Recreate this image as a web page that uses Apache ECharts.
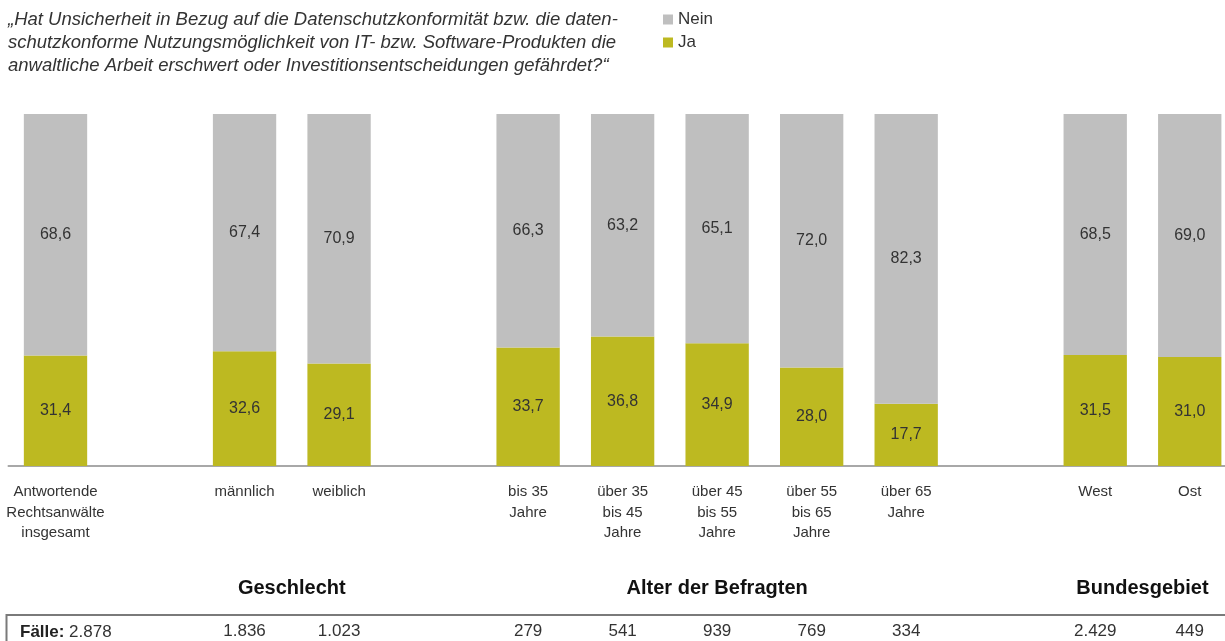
<!DOCTYPE html>
<html>
<head>
<meta charset="utf-8">
<script src="https://cdn.jsdelivr.net/npm/echarts@6/dist/echarts.min.js"></script>
<style>
  html, body { margin: 0; padding: 0; background: #fff; overflow: hidden; }
  /* plot area runs past the right edge, as in the cropped original */
  #chart { width: 1237px; height: 641px; }
</style>
</head>
<body>
<div id="chart"></div>
<script>
// categories ('' = empty gap slot between groups)
const categories = [
  'Antwortende\nRechtsanwälte\ninsgesamt', '', 'männlich', 'weiblich', '',
  'bis 35\nJahre', 'über 35\nbis 45\nJahre', 'über 45\nbis 55\nJahre',
  'über 55\nbis 65\nJahre', 'über 65\nJahre', '', 'West', 'Ost'
];
const ja   = [31.4, null, 32.6, 29.1, null, 33.7, 36.8, 34.9, 28.0, 17.7, null, 31.5, 31.0];
const nein = [68.6, null, 67.4, 70.9, null, 66.3, 63.2, 65.1, 72.0, 82.3, null, 68.5, 69.0];
const faelle = ['2.878', '', '1.836', '1.023', '', '279', '541', '939', '769', '334', '', '2.429', '449'];
// group headings and the category slots they sit under
const groups = [
  { name: 'Geschlecht', from: 2, to: 3 },
  { name: 'Alter der Befragten', from: 5, to: 9 },
  { name: 'Bundesgebiet', from: 11, to: 12 }
];
const titleText = '„Hat Unsicherheit in Bezug auf die Datenschutzkonformität bzw. die daten-\n' +
  'schutzkonforme Nutzungsmöglichkeit von IT- bzw. Software-Produkten die\n' +
  'anwaltliche Arbeit erschwert oder Investitionsentscheidungen gefährdet?“';

const FONT = '"Liberation Sans", Arial, sans-serif';
const fmt = v => v.toFixed(1).replace('.', ',');

const chart = echarts.init(document.getElementById('chart'));
const option = {
  animation: false,
  textStyle: { fontFamily: FONT },
  title: {
    text: titleText,
    left: 3,
    top: 3,
    textStyle: { fontFamily: FONT, fontSize: 18.5, fontStyle: 'italic', fontWeight: 'normal', color: '#333', lineHeight: 23 }
  },
  legend: {
    data: ['Nein', 'Ja'],
    orient: 'vertical',
    left: 658,
    top: 6,
    icon: 'rect',
    itemWidth: 10,
    itemHeight: 10,
    itemGap: 6,
    textStyle: { fontFamily: FONT, fontSize: 17, lineHeight: 17, color: '#333' }
  },
  grid: { left: 8.25, right: 0, top: 114, bottom: 175 },
  xAxis: [{
    type: 'category',
    data: categories,
    axisLine: { lineStyle: { color: '#8c8c8c', width: 1.5 } },
    axisTick: { show: false },
    axisLabel: { interval: 0, margin: 16, fontSize: 15, lineHeight: 20.5, color: '#333', fontFamily: FONT }
  }, {
    type: 'category',
    // first count is drawn with its "Fälle:" caption as a graphic below
    data: faelle.map((f, i) => i === 0 ? '' : f),
    position: 'bottom',
    offset: 157,
    axisLine: { show: false },
    axisTick: { show: false },
    axisLabel: { interval: 0, margin: 0, fontSize: 17, color: '#333', fontFamily: FONT }
  }],
  yAxis: { type: 'value', min: 0, max: 100, show: false },
  series: [{
    name: 'Ja',
    type: 'bar',
    stack: 'total',
    data: ja,
    barWidth: '67%',
    itemStyle: { color: '#bdb921' },
    label: { show: true, position: 'inside', formatter: p => fmt(p.value), fontSize: 16, color: '#333', fontFamily: FONT }
  }, {
    name: 'Nein',
    type: 'bar',
    stack: 'total',
    data: nein,
    barWidth: '67%',
    itemStyle: { color: '#bfbfbf' },
    label: { show: true, position: 'inside', formatter: p => fmt(p.value), fontSize: 16, color: '#333', fontFamily: FONT }
  }]
};
chart.setOption(option);

// group headings centred over their slots, plus the box around the case counts
const graphics = groups.map(g => {
  const x1 = chart.convertToPixel({ xAxisIndex: 0 }, g.from);
  const x2 = chart.convertToPixel({ xAxisIndex: 0 }, g.to);
  return {
    type: 'text',
    x: (x1 + x2) / 2,
    y: 588,
    style: {
      text: g.name, fill: '#111', font: 'bold 20px ' + FONT,
      textAlign: 'center', textVerticalAlign: 'middle'
    }
  };
});
graphics.push({
  type: 'text',
  x: 20,
  y: 632,
  style: {
    text: '{b|Fälle:} ' + faelle[0],
    textVerticalAlign: 'middle',
    font: '17px ' + FONT,
    fill: '#333',
    rich: { b: { fontWeight: 'bold', fontSize: 17, fill: '#222', fontFamily: FONT } }
  }
});
graphics.push({
  type: 'rect',
  shape: { x: 6.5, y: 615, width: 1250, height: 60 },
  style: { fill: 'none', stroke: '#7a7a7a', lineWidth: 2 }
});
chart.setOption({ graphic: graphics });
</script>
</body>
</html>
